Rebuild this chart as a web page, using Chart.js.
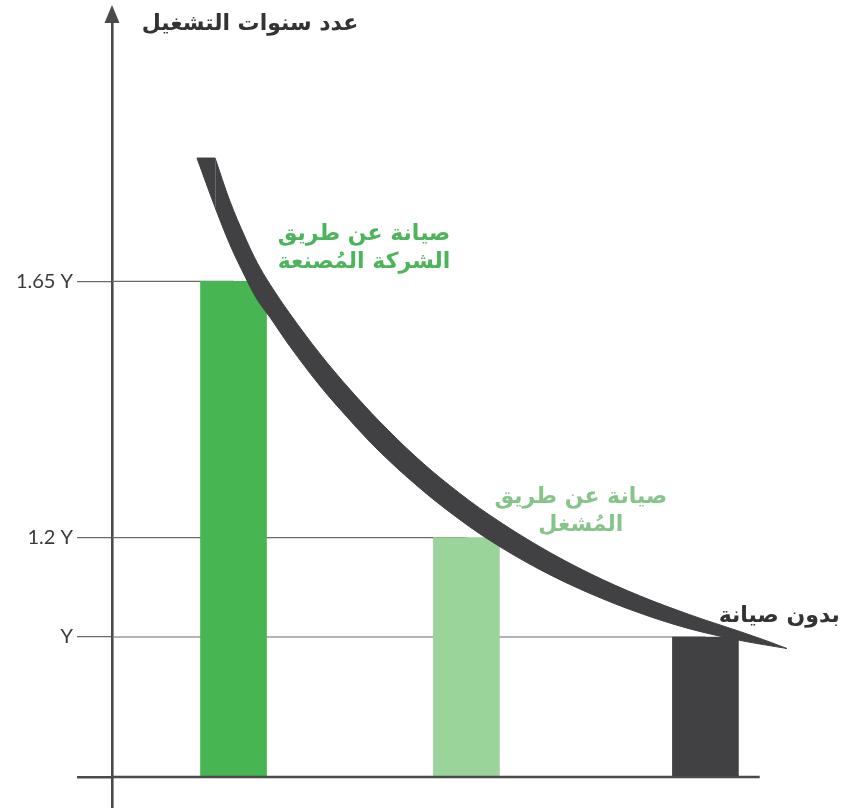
<!DOCTYPE html>
<html lang="ar">
<head>
<meta charset="utf-8">
<style>
  html, body { margin: 0; padding: 0; background: #fff; }
  #wrap { width: 845px; height: 811px; }
</style>
</head>
<body>
<div id="wrap"><canvas id="chart"></canvas></div>
<script src="https://cdn.jsdelivr.net/npm/chart.js@4/dist/chart.umd.min.js"></script>
<script>
/* global Chart */

// bars (heights as drawn, in units of "Y"; the picture is not to scale)
const categories = ['الشركة المُصنعة', 'المُشغل', 'بدون صيانة']
const positions = [1, 1.987, 3]
const drawnHeights = [3.54, 1.71, 1]
const tickLabels = ['1.65 Y', '1.2 Y', 'Y']

// decay band: flat top cap, then upper and lower edge
const capX = [0.845, 0.922]
const capY = [4.421, 4.421]
const upperX = [0.922, 0.985, 1.049, 1.100, 1.155, 1.239, 1.367, 1.494, 1.621, 1.769, 1.917, 2.087, 2.299, 2.511, 2.722, 2.934, 3.146, 3.252, 3.345]
const upperY = [4.421, 4.112, 3.855, 3.675, 3.518, 3.309, 3.021, 2.767, 2.536, 2.293, 2.081, 1.869, 1.644, 1.453, 1.294, 1.159, 1.039, 0.977, 0.918]
const lowerX = [0.845, 0.922, 0.985, 1.049, 1.100, 1.155, 1.239, 1.367, 1.494, 1.621, 1.769, 1.917, 2.087, 2.299, 2.511, 2.722, 2.934, 3.146, 3.252, 3.345]
const lowerY = [4.421, 4.068, 3.802, 3.574, 3.411, 3.282, 3.076, 2.793, 2.547, 2.321, 2.093, 1.891, 1.689, 1.481, 1.311, 1.171, 1.058, 0.976, 0.944, 0.918]

const barColors = ['#48b553', '#9bd49a', '#414042']
const curveColor = '#414042'
const axisColor = '#4a4a4c'
const gridColor = '#6a6a6a'
const xMin = 0.485
const xMax = 3.422
const yMax = 5.407
const axisEnd = 3.23
const arabicFont = '"DejaVu Sans", sans-serif'

const annotations = [
  { lines: ['عدد سنوات التشغيل'], x: 1.07, y: 5.379, color: '#333335', size: 22 },
  { lines: ['صيانة عن طريق', 'الشركة المُصنعة'], x: 1.553, y: 3.879, color: '#4cb55b', size: 22 },
  { lines: ['صيانة عن طريق', 'المُشغل'], x: 2.472, y: 2.0, color: '#86c58a', size: 22 },
  { lines: ['بدون صيانة'], x: 3.313, y: 1.15, color: '#333335', size: 22 }
]

const toPoints = (xs, ys) => xs.map((x, i) => ({ x, y: ys[i] }))

const gridDatasets = drawnHeights.map((h, i) => ({
  type: 'line',
  data: [{ x: xMin, y: h }, { x: positions[i], y: h }],
  borderColor: gridColor,
  borderWidth: 1.2,
  pointRadius: 0,
  order: 3
}))

const textPlugin = {
  id: 'textLabels',
  afterDraw (chart) {
    const { ctx, scales } = chart
    ctx.save()
    ctx.textAlign = 'center'
    ctx.textBaseline = 'middle'
    annotations.forEach(a => {
      ctx.fillStyle = a.color
      ctx.font = `bold ${a.size}px ${arabicFont}`
      const px = scales.x.getPixelForValue(a.x)
      const py = scales.y.getPixelForValue(a.y)
      a.lines.forEach((t, i) => ctx.fillText(t, px, py + i * 28))
    })
    // arrow head on the vertical axis
    const ax = scales.y.right
    const top = chart.chartArea.top
    ctx.fillStyle = axisColor
    ctx.beginPath()
    ctx.moveTo(ax, top - 15)
    ctx.lineTo(ax - 7.5, top + 3)
    ctx.lineTo(ax + 7.5, top + 3)
    ctx.closePath()
    ctx.fill()
    ctx.restore()
  }
}

new Chart(document.getElementById('chart'), {
  type: 'bar',
  data: {
    datasets: [
      {
        type: 'line',
        data: [{ x: xMin, y: 0 }, { x: axisEnd, y: 0 }],
        borderColor: axisColor,
        borderWidth: 2.6,
        pointRadius: 0,
        clip: false,
        order: 0
      },
      {
        type: 'line',
        data: toPoints(capX, capY),
        borderColor: curveColor,
        borderWidth: 1,
        backgroundColor: curveColor,
        pointRadius: 0,
        tension: 0,
        fill: 3,
        order: 1
      },
      {
        type: 'line',
        data: toPoints(upperX, upperY),
        borderColor: curveColor,
        borderWidth: 1,
        backgroundColor: curveColor,
        pointRadius: 0,
        tension: 0.35,
        fill: 3,
        order: 1
      },
      {
        type: 'line',
        data: toPoints(lowerX, lowerY),
        borderColor: curveColor,
        borderWidth: 1,
        pointRadius: 0,
        tension: 0.35,
        fill: false,
        order: 1
      },
      {
        label: 'عدد سنوات التشغيل',
        data: toPoints(positions, drawnHeights),
        backgroundColor: barColors,
        borderWidth: 0,
        barThickness: 66,
        order: 2
      },
      ...gridDatasets
    ]
  },
  options: {
    responsive: true,
    maintainAspectRatio: false,
    animation: false,
    layout: { padding: { top: 20, right: 40, left: 0, bottom: 0 } },
    plugins: {
      legend: { display: false },
      tooltip: { enabled: false }
    },
    scales: {
      x: {
        type: 'linear',
        offset: false,
        min: xMin,
        max: xMax,
        afterBuildTicks: s => { s.ticks = [{ value: xMin }] },
        afterFit: s => { s.height = 34 },
        ticks: { display: false },
        border: { display: false },
        grid: { offset: false, drawOnChartArea: false, drawTicks: true, tickLength: 31, color: axisColor, lineWidth: 2.6 }
      },
      y: {
        min: 0,
        max: yMax,
        afterBuildTicks: s => { s.ticks = [0, ...drawnHeights].sort((a, b) => a - b).map(v => ({ value: v })) },
        afterFit: s => { s.width = 112 },
        ticks: {
          padding: 4,
          color: '#3a3a3a',
          font: { family: 'Lato', size: 20 },
          callback: v => (v === 0 ? '' : tickLabels[drawnHeights.indexOf(v)])
        },
        border: { display: true, color: axisColor, width: 2.6 },
        grid: {
          drawOnChartArea: false,
          drawTicks: true,
          tickLength: 35,
          color: c => (c.tick && c.tick.value === 0 ? axisColor : gridColor),
          lineWidth: c => (c.tick && c.tick.value === 0 ? 2.6 : 1.2)
        }
      }
    }
  },
  plugins: [textPlugin]
})
</script>
</body>
</html>
